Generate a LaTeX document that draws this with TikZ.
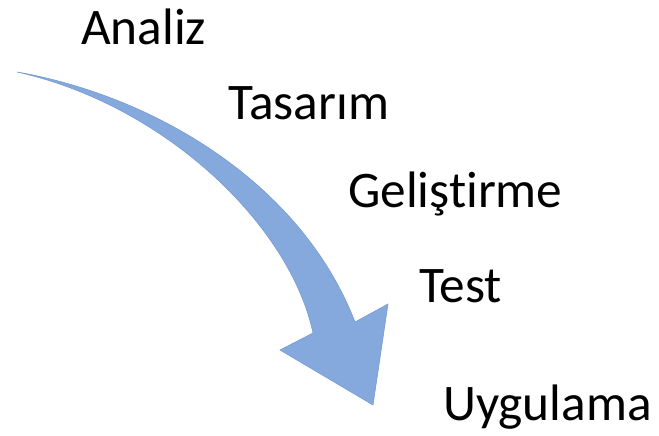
\documentclass[tikz,border=0pt]{standalone}
\usepackage{fontspec}
\setmainfont{Carlito}[Ligatures=NoCommon]
\definecolor{arrowblue}{RGB}{133,169,221}
\definecolor{arrowedge}{RGB}{120,156,210}
\begin{document}
\begin{tikzpicture}[x=1pt,y=-1pt,
  label/.style={anchor=base west,inner sep=0pt,font=\fontsize{51.3}{60}\selectfont,text=black},
  bigarrow/.style={fill=arrowblue,draw=arrowedge,line width=0.6pt,line join=miter}]
\useasboundingbox (0,0) rectangle (659,436);
\fill[white] (0,0) rectangle (659,436);
% curved block arrow
\coordinate (tail) at (17,72);
\coordinate (outer) at (355,322);
\coordinate (rbarb) at (388,304);
\coordinate (tip) at (373,405);
\coordinate (lbarb) at (280,350);
\coordinate (inner) at (313,333);
\path[bigarrow] (tail) .. controls (150,95) and (300,180) .. (outer)
  -- (rbarb) -- (tip) -- (lbarb) -- (inner)
  .. controls (290,225) and (165,105) .. (tail) -- cycle;
% labels
\node[label] (analiz) at (81,45) {Analiz};
\node[label] (tasarim) at (228,120) {Tasarım};
\node[label] (gelistirme) at (348,207) {Geliştirme};
\node[label] (test) at (419,302) {Test};
\node[label] (uygulama) at (443,420) {Uygulama};
\end{tikzpicture}
\end{document}
